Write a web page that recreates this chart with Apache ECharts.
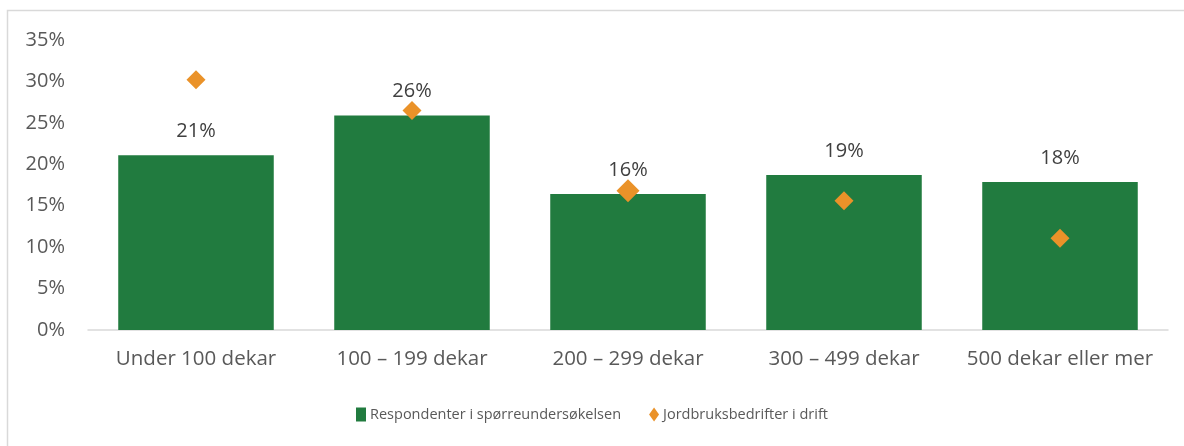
<!DOCTYPE html>
<html><head><meta charset="utf-8">
<script src="https://cdn.jsdelivr.net/npm/echarts@6/dist/echarts.min.js"></script>
<style>html,body{margin:0;padding:0;background:#fff}#c{width:1184px;height:446px}</style>
</head><body><div id="c"></div>
<script>
const categories = ['Under 100 dekar', '100 – 199 dekar', '200 – 299 dekar', '300 – 499 dekar', '500 dekar eller mer'];
const respondenter = [21.1, 25.9, 16.4, 18.7, 17.85];
const respondenterLabels = ['21%', '26%', '16%', '19%', '18%'];
const jordbruk = [30.2, 26.5, 16.8, 15.6, 11.06];
const yTicks = [0, 5, 10, 15, 20, 25, 30, 35];
const seriesNames = ['Respondenter i spørreundersøkelsen', 'Jordbruksbedrifter i drift'];

const chart = echarts.init(document.getElementById('c'), null, {renderer: 'canvas'});
const FONT = 'Open Sans';
chart.setOption({
  animation: false,
  textStyle: {fontFamily: FONT},
  graphic: [{
    type: 'rect', shape: {x: 7.5, y: 10.5, width: 1300, height: 600},
    style: {fill: 'none', stroke: '#D9D9D9', lineWidth: 1.5}, silent: true, z: -1
  }],
  grid: {left: 88, right: 16, top: 40, bottom: 116},
  legend: {
    bottom: 19, left: 'center', itemGap: 28, itemWidth: 10, itemHeight: 14,
    textStyle: {color: '#595959', fontSize: 14.5, fontFamily: FONT, padding: [0, 0, 0, -1]},
    data: [
      {name: seriesNames[0], icon: 'rect'},
      {name: seriesNames[1], icon: 'diamond'}
    ]
  },
  xAxis: {
    type: 'category', data: categories,
    axisLine: {lineStyle: {color: '#D9D9D9', width: 1.5}},
    axisTick: {show: false},
    axisLabel: {color: '#595959', fontSize: 20.5, margin: 19, interval: 0, fontFamily: FONT}
  },
  yAxis: {
    type: 'value', min: 0, max: 35, interval: 5,
    axisLine: {show: false}, axisTick: {show: false},
    splitLine: {show: false},
    axisLabel: {color: '#595959', fontSize: 20, margin: 23, fontFamily: FONT,
      formatter: v => yTicks.includes(v) ? v + '%' : ''}
  },
  series: [{
    name: seriesNames[0], type: 'bar', data: respondenter, barWidth: '72%',
    itemStyle: {color: '#217B3F'},
    label: {show: true, position: 'top', distance: 14, color: '#404040', fontSize: 20, fontFamily: FONT,
      formatter: p => respondenterLabels[p.dataIndex]}
  }, {
    name: seriesNames[1], type: 'scatter', symbol: 'diamond',
    data: jordbruk.map((v, i) => ({value: v, symbolSize: i === 2 ? 23 : 19})),
    itemStyle: {color: '#EA9229', opacity: 1}, z: 5
  }]
});
</script></body></html>
